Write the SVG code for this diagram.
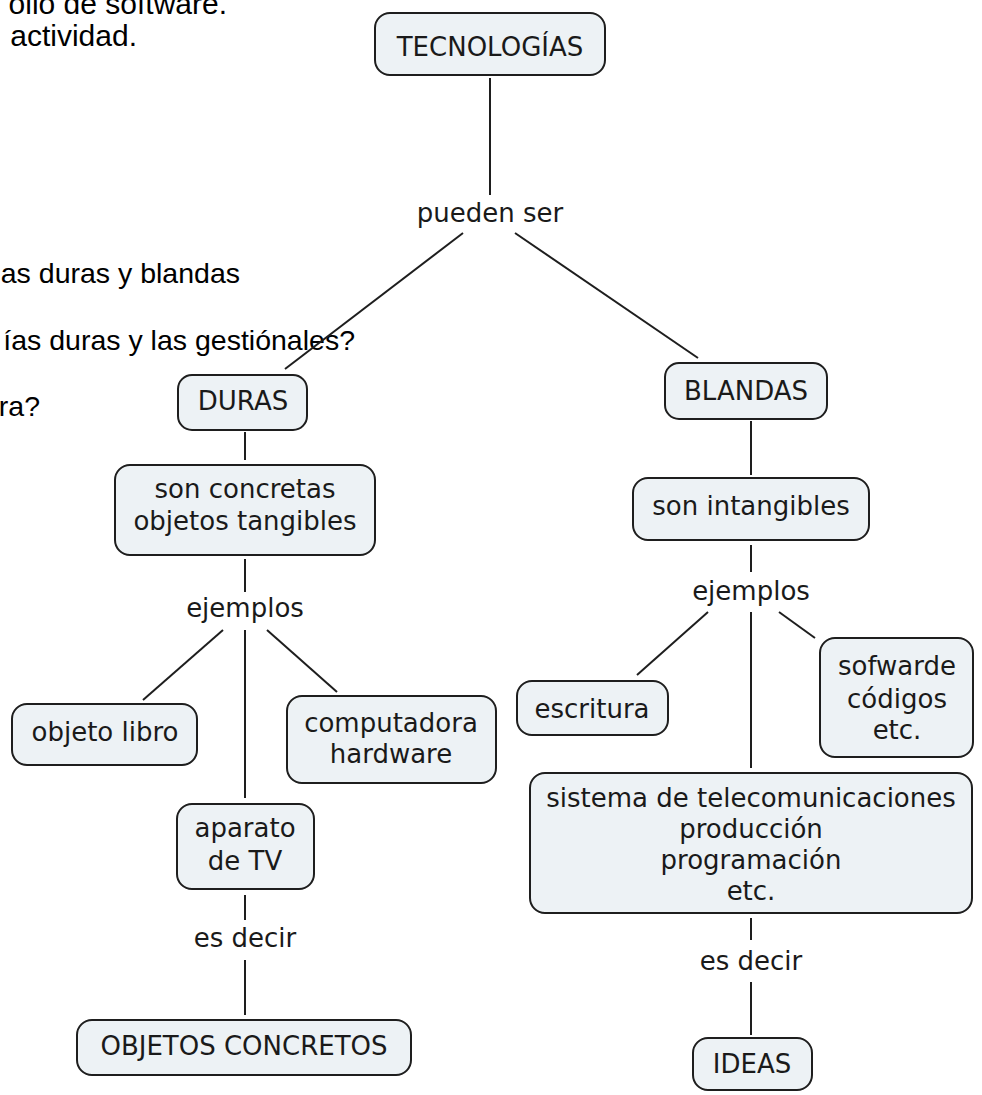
<svg xmlns="http://www.w3.org/2000/svg" width="982" height="1095" viewBox="0 0 982 1095">
<style>
.bg{fill:#ffffff}
.box{fill:#edf2f5;stroke:#1e1e1e;stroke-width:2}
.t{font-family:"DejaVu Sans",Verdana,sans-serif;font-size:26px;fill:#1a1a1a;text-anchor:middle}
.doc{font-family:"Liberation Sans",Arial,sans-serif;font-size:28.5px;fill:#000;text-anchor:end}
.big{font-size:30px}
.c line{stroke:#1e1e1e;stroke-width:2;fill:none}
</style>
<rect class="bg" x="0" y="0" width="982" height="1095"/>
<g id="doc-text">
<text class="doc big" x="227" y="14">ollo de software.</text>
<text class="doc big" x="137" y="46">actividad.</text>
<text class="doc" x="240" y="283">as duras y blandas</text>
<text class="doc" x="355" y="350">ías duras y las gestiónales?</text>
<text class="doc" x="40" y="416">ra?</text>
</g>
<g id="connectors" class="c">
<line x1="490" y1="78" x2="490" y2="195"/>
<line x1="463" y1="233" x2="285" y2="369"/>
<line x1="515" y1="233" x2="698" y2="358"/>
<line x1="245" y1="432" x2="245" y2="460"/>
<line x1="751" y1="421" x2="751" y2="475"/>
<line x1="245" y1="559" x2="245" y2="592"/>
<line x1="223" y1="630" x2="143" y2="700"/>
<line x1="245" y1="630" x2="245" y2="798"/>
<line x1="267" y1="630" x2="337" y2="692"/>
<line x1="751" y1="545" x2="751" y2="572"/>
<line x1="708" y1="612" x2="637" y2="675"/>
<line x1="751" y1="612" x2="751" y2="768"/>
<line x1="779" y1="612" x2="815" y2="638"/>
<line x1="245" y1="895" x2="245" y2="920"/>
<line x1="245" y1="960" x2="245" y2="1015"/>
<line x1="751" y1="918" x2="751" y2="940"/>
<line x1="751" y1="982" x2="751" y2="1035"/>
</g>
<g id="n-tecnologias"><rect class="box" x="375" y="13" width="230" height="62" rx="15"/><text class="t" x="490" y="56">TECNOLOGÍAS</text></g>
<g id="l-pueden-ser"><text class="t" x="490" y="222">pueden ser</text></g>
<g id="n-duras"><rect class="box" x="178" y="375" width="129" height="55" rx="14"/><text class="t" x="243" y="410">DURAS</text></g>
<g id="n-blandas"><rect class="box" x="665" y="363" width="162" height="56" rx="14"/><text class="t" x="746" y="400">BLANDAS</text></g>
<g id="n-son-concretas"><rect class="box" x="115" y="465" width="260" height="90" rx="15"/><text class="t" x="245" y="498">son concretas</text><text class="t" x="245" y="530">objetos tangibles</text></g>
<g id="n-son-intangibles"><rect class="box" x="633" y="478" width="236" height="62" rx="15"/><text class="t" x="751" y="515">son intangibles</text></g>
<g id="l-ejemplos-1"><text class="t" x="245" y="617">ejemplos</text></g>
<g id="l-ejemplos-2"><text class="t" x="751" y="600">ejemplos</text></g>
<g id="n-objeto-libro"><rect class="box" x="12" y="704" width="185" height="61" rx="15"/><text class="t" x="105" y="741">objeto libro</text></g>
<g id="n-computadora"><rect class="box" x="287" y="696" width="209" height="87" rx="15"/><text class="t" x="391" y="732">computadora</text><text class="t" x="391" y="763">hardware</text></g>
<g id="n-aparato"><rect class="box" x="177" y="804" width="137" height="85" rx="15"/><text class="t" x="245" y="837">aparato</text><text class="t" x="245" y="870">de TV</text></g>
<g id="l-es-decir-1"><text class="t" x="245" y="947">es decir</text></g>
<g id="n-objetos-concretos"><rect class="box" x="77" y="1020" width="334" height="55" rx="15"/><text class="t" x="244" y="1055">OBJETOS CONCRETOS</text></g>
<g id="n-escritura"><rect class="box" x="517" y="681" width="151" height="54" rx="15"/><text class="t" x="592" y="718">escritura</text></g>
<g id="n-sofwarde"><rect class="box" x="820" y="638" width="153" height="119" rx="15"/><text class="t" x="897" y="675">sofwarde</text><text class="t" x="897" y="708">códigos</text><text class="t" x="897" y="739">etc.</text></g>
<g id="n-sistema"><rect class="box" x="530" y="773" width="442" height="140" rx="15"/><text class="t" x="751" y="807">sistema de telecomunicaciones</text><text class="t" x="751" y="838">producción</text><text class="t" x="751" y="869">programación</text><text class="t" x="751" y="900">etc.</text></g>
<g id="l-es-decir-2"><text class="t" x="751" y="970">es decir</text></g>
<g id="n-ideas"><rect class="box" x="693" y="1038" width="119" height="52" rx="15"/><text class="t" x="752" y="1073">IDEAS</text></g>
</svg>
